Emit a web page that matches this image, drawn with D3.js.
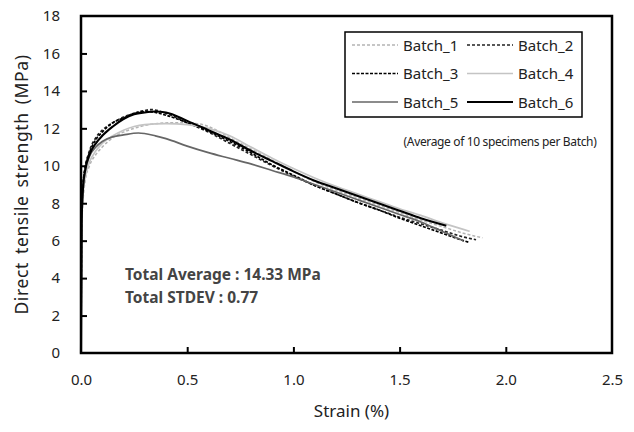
<!DOCTYPE html>
<html>
<head>
<meta charset="utf-8">
<script src="https://cdn.jsdelivr.net/npm/d3@7"></script>
<style>
  body { margin: 0; background: #fff; }
  text { font-family: "Noto Sans", sans-serif; fill: #222; }
</style>
</head>
<body>
<div id="chart"></div>
<script>
// strain (%) and stress (MPa), one pair of arrays per batch
const strain1 = [0, 0.003, 0.01, 0.02, 0.04, 0.07, 0.1, 0.15, 0.2, 0.25, 0.3, 0.35, 0.45, 0.55, 0.62, 0.7, 0.8, 0.9, 1.0, 1.1, 1.2, 1.3, 1.4, 1.5, 1.6, 1.7, 1.8, 1.89];
const stress1 = [0, 6.5, 8.2, 9.2, 10.0, 10.6, 11.0, 11.5, 11.8, 12.0, 12.15, 12.25, 12.3, 12.25, 12.0, 11.5, 10.9, 10.3, 9.7, 9.15, 8.7, 8.3, 7.9, 7.5, 7.1, 6.75, 6.4, 6.15];

const strain2 = [0, 0.003, 0.01, 0.02, 0.04, 0.07, 0.1, 0.15, 0.2, 0.25, 0.3, 0.33, 0.4, 0.5, 0.6, 0.7, 0.8, 0.9, 1.0, 1.1, 1.2, 1.3, 1.4, 1.5, 1.6, 1.7, 1.8, 1.86];
const stress2 = [0, 7.2, 9.0, 9.9, 10.8, 11.5, 11.9, 12.3, 12.6, 12.8, 12.95, 13.0, 12.8, 12.3, 11.8, 11.2, 10.6, 10.0, 9.45, 8.95, 8.5, 8.05, 7.65, 7.25, 6.9, 6.55, 6.2, 6.05];

const strain3 = [0, 0.003, 0.01, 0.02, 0.04, 0.07, 0.1, 0.15, 0.2, 0.25, 0.3, 0.35, 0.4, 0.5, 0.6, 0.7, 0.8, 0.9, 1.0, 1.1, 1.2, 1.3, 1.4, 1.5, 1.6, 1.7, 1.8, 1.83];
const stress3 = [0, 7.1, 9.0, 9.9, 10.7, 11.4, 11.8, 12.3, 12.55, 12.8, 12.9, 12.85, 12.7, 12.3, 11.85, 11.3, 10.7, 10.05, 9.5, 8.95, 8.5, 8.05, 7.65, 7.2, 6.8, 6.4, 6.0, 5.9];

const strain4 = [0, 0.003, 0.01, 0.02, 0.04, 0.07, 0.1, 0.15, 0.2, 0.25, 0.3, 0.4, 0.5, 0.6, 0.7, 0.8, 0.9, 1.0, 1.1, 1.2, 1.3, 1.4, 1.5, 1.6, 1.7, 1.8, 1.83];
const stress4 = [0, 6.8, 8.5, 9.4, 10.2, 10.8, 11.2, 11.6, 11.9, 12.1, 12.2, 12.25, 12.2, 12.0, 11.6, 11.0, 10.4, 9.85, 9.35, 8.9, 8.5, 8.1, 7.7, 7.35, 6.95, 6.6, 6.5];

const strain5 = [0, 0.003, 0.01, 0.02, 0.04, 0.07, 0.1, 0.15, 0.2, 0.27, 0.35, 0.4, 0.5, 0.6, 0.7, 0.8, 0.9, 1.0, 1.1, 1.2, 1.3, 1.4, 1.5, 1.6, 1.7, 1.8];
const stress5 = [0, 7.0, 8.8, 9.7, 10.5, 11.0, 11.3, 11.55, 11.65, 11.75, 11.6, 11.45, 11.05, 10.7, 10.4, 10.1, 9.75, 9.4, 9.0, 8.6, 8.2, 7.8, 7.4, 7.0, 6.5, 6.0];

const strain6 = [0, 0.003, 0.01, 0.02, 0.04, 0.07, 0.1, 0.15, 0.2, 0.25, 0.3, 0.35, 0.4, 0.5, 0.6, 0.7, 0.8, 0.9, 1.0, 1.1, 1.2, 1.3, 1.4, 1.5, 1.6, 1.72];
const stress6 = [0, 7.0, 8.9, 9.8, 10.6, 11.2, 11.6, 12.1, 12.5, 12.75, 12.85, 12.9, 12.85, 12.4, 11.9, 11.4, 10.8, 10.25, 9.7, 9.2, 8.8, 8.4, 8.0, 7.6, 7.2, 6.8];

const batchNames = ["Batch_1", "Batch_2", "Batch_3", "Batch_4", "Batch_5", "Batch_6"];
const xTicks = [0, 0.5, 1.0, 1.5, 2.0, 2.5];
const yTicks = [0, 2, 4, 6, 8, 10, 12, 14, 16, 18];

const styles = [
  { color: "#b4b4b4", width: 1.5, dash: "3,2" },
  { color: "#222", width: 1.7, dash: "3,2" },
  { color: "#000", width: 1.7, dash: "3,1.5" },
  { color: "#c4c4c4", width: 1.7, dash: null },
  { color: "#666", width: 1.7, dash: null },
  { color: "#000", width: 2.1, dash: null }
];

const series = [
  [strain1, stress1], [strain2, stress2], [strain3, stress3],
  [strain4, stress4], [strain5, stress5], [strain6, stress6]
].map(function (s, i) {
  return { name: batchNames[i], style: styles[i], pts: s[0].map((x, j) => [x, s[1][j]]) };
});

const W = 634, H = 432;
const margin = { top: 16, right: 22, bottom: 79, left: 81 };
const width = W - margin.left - margin.right,
  height = H - margin.top - margin.bottom;

const svg = d3.select("#chart").append("svg")
  .attr("width", W).attr("height", H);

const g = svg.append("g")
  .attr("transform", `translate(${margin.left}, ${margin.top})`);

const x = d3.scaleLinear().domain([0, 2.5]).range([0, width]);
const y = d3.scaleLinear().domain([0, 18]).range([height, 0]);

// curves
const line = d3.line()
  .x(d => x(d[0]))
  .y(d => y(d[1]))
  .curve(d3.curveMonotoneX);

g.selectAll(".curve")
  .data(series)
  .join("path")
  .attr("class", "curve")
  .attr("d", d => line(d.pts))
  .attr("fill", "none")
  .attr("stroke", d => d.style.color)
  .attr("stroke-width", d => d.style.width)
  .attr("stroke-dasharray", d => d.style.dash);

// axes, ticks pointing inward
const xAxis = g.append("g")
  .attr("transform", `translate(0, ${height})`)
  .call(d3.axisBottom(x).tickValues(xTicks).tickFormat(d3.format(".1f"))
    .tickSizeInner(-6).tickSizeOuter(0).tickPadding(21));

const yAxis = g.append("g")
  .call(d3.axisLeft(y).tickValues(yTicks)
    .tickSizeInner(-6).tickSizeOuter(0).tickPadding(21));

[xAxis, yAxis].forEach(function (a) {
  a.select(".domain").remove();
  a.selectAll(".tick line").attr("stroke", "#000").attr("stroke-width", 2);
  a.selectAll(".tick text")
    .attr("font-size", "15px")
    .attr("font-family", "Noto Sans, sans-serif")
    .attr("fill", "#222");
});
xAxis.selectAll(".tick").filter(d => d === 0 || d === 2.5).select("line").remove();
yAxis.selectAll(".tick").filter(d => d === 0 || d === 18).select("line").remove();

// frame
g.append("rect")
  .attr("x", 0).attr("y", 0)
  .attr("width", width).attr("height", height)
  .attr("fill", "none")
  .attr("stroke", "#000")
  .attr("stroke-width", 2.5);

// axis titles
svg.append("text")
  .attr("x", margin.left + width / 2 + 5)
  .attr("y", 417)
  .attr("text-anchor", "middle")
  .attr("font-size", "17px")
  .text("Strain (%)");

svg.append("text")
  .attr("transform", `translate(28, ${margin.top + height / 2}) rotate(-90)`)
  .attr("text-anchor", "middle")
  .attr("font-size", "17.5px")
  .style("letter-spacing", "0.6px")
  .style("word-spacing", "3px")
  .text("Direct tensile strength (MPa)");

// legend
const legend = svg.append("g");
legend.append("rect")
  .attr("x", 345).attr("y", 32)
  .attr("width", 237).attr("height", 85)
  .attr("fill", "#fff")
  .attr("stroke", "#000")
  .attr("stroke-width", 1.5);

const item = legend.selectAll(".item")
  .data(series)
  .join("g")
  .attr("class", "item")
  .attr("transform", (d, i) => `translate(${i % 2 === 0 ? 352 : 467}, ${45 + Math.floor(i / 2) * 28.5})`);

item.append("line")
  .attr("x1", 0).attr("x2", 46)
  .attr("stroke", d => d.style.color)
  .attr("stroke-width", d => d.style.width)
  .attr("stroke-dasharray", d => d.style.dash);

item.append("text")
  .attr("x", 51).attr("y", 5.5)
  .attr("font-size", "15px")
  .text(d => d.name);

svg.append("text")
  .attr("x", 500).attr("y", 146)
  .attr("text-anchor", "middle")
  .attr("font-size", "12px")
  .style("letter-spacing", "-0.35px")
  .text("(Average of 10 specimens per Batch)");

// summary
svg.append("text")
  .attr("x", 125).attr("y", 280)
  .attr("font-size", "15.5px")
  .attr("font-weight", "bold")
  .style("fill", "#444")
  .text("Total Average : 14.33 MPa");

svg.append("text")
  .attr("x", 125).attr("y", 303)
  .attr("font-size", "15.5px")
  .attr("font-weight", "bold")
  .style("fill", "#444")
  .text("Total STDEV : 0.77");
</script>
</body>
</html>
